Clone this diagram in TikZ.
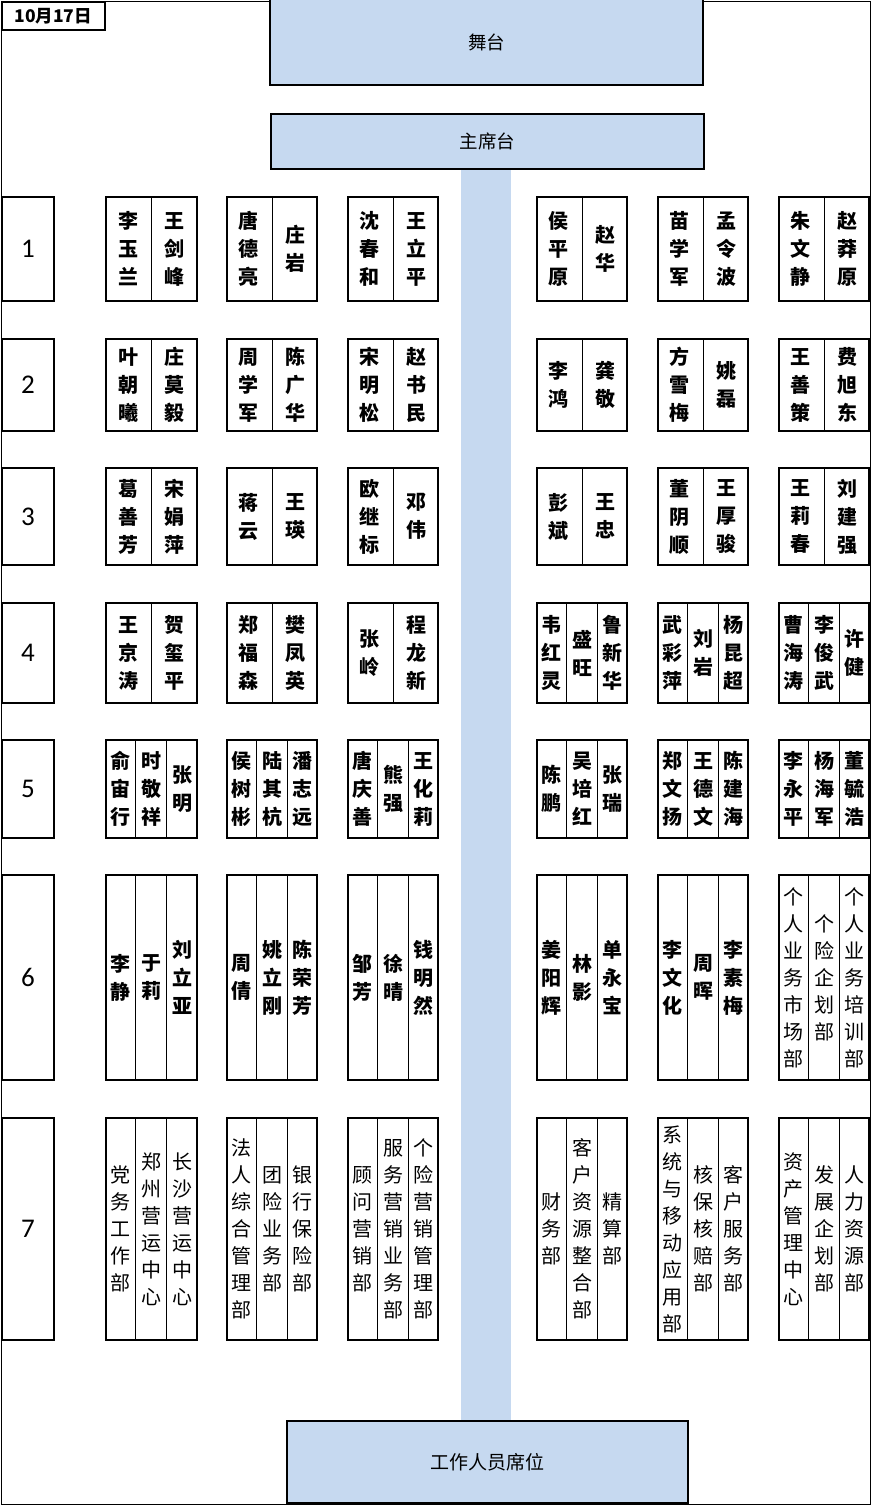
\documentclass[tikz,border=0pt]{standalone}
\usepackage{fontspec}
\setmainfont{Noto Sans CJK SC}
\newfontfamily\numfont{Carlito}
\usetikzlibrary{calc}
\definecolor{aisle}{HTML}{C6D9F0}
\tikzset{
  frameline/.style={draw=black, line width=1.2pt, inner sep=0pt},
  bluebox/.style={fill=aisle, inner sep=0pt, font=\fontsize{18.5}{20}\selectfont},
  boxedge/.style={draw=black, line width=2pt},
  tbl/.style={draw=black, line width=2pt, inner sep=0pt, rectangle},
  divider/.style={draw=black, line width=1pt},
  nm/.style={align=center, inner sep=0pt, font=\fontsize{20}{28}\selectfont\bfseries},
  dept/.style={align=center, inner sep=0pt, font=\fontsize{20}{27}\selectfont},
  rowlbl/.style={draw=black, line width=2pt, inner sep=0pt, minimum width=52, anchor=north west, font=\numfont\fontsize{27}{30}\selectfont},
}
\newcommand\seatII[7]{%
  \node[tbl, minimum width=90.6, minimum height=#5-#4, anchor=north west] (#1) at (#3,#4) {};
  \draw[divider] (#1.north) -- (#1.south);
  \node[#2] (#1a) at ($(#1.west)!0.25!(#1.east)$) {#6};
  \node[#2] (#1b) at ($(#1.west)!0.75!(#1.east)$) {#7};
}
\newcommand\seatIII[8]{%
  \node[tbl, minimum width=90.6, minimum height=#5-#4, anchor=north west] (#1) at (#3,#4) {};
  \draw[divider] ($(#1.north west)!0.3333!(#1.north east)$) -- ($(#1.south west)!0.3333!(#1.south east)$);
  \draw[divider] ($(#1.north west)!0.6667!(#1.north east)$) -- ($(#1.south west)!0.6667!(#1.south east)$);
  \node[#2] (#1a) at ($(#1.west)!0.16667!(#1.east)$) {#6};
  \node[#2] (#1b) at (#1.center) {#7};
  \node[#2] (#1c) at ($(#1.west)!0.83333!(#1.east)$) {#8};
}
\begin{document}
\begin{tikzpicture}[x=1pt,y=-1pt]
\useasboundingbox (0,0) rectangle (871,1505);
% outer frame
\node[frameline, minimum width=869.4, minimum height=1502.9, anchor=north west] (frame) at (0.6,0.6) {};
% aisle
\node[fill=aisle, inner sep=0pt, minimum width=50, minimum height=1252, anchor=north west] (aisle) at (461,168) {};
% stage
\node[bluebox, minimum width=433, minimum height=85, anchor=north west] (stage) at (270,0) {舞台};
\draw[boxedge] (stage.north west) -- (stage.south west) -- (stage.south east) -- (stage.north east);
\node[bluebox, boxedge, minimum width=433, minimum height=55, anchor=north west] (chair) at (270,113) {主席台};
\node[bluebox, boxedge, minimum width=401, minimum height=82, anchor=north west, font=\fontsize{19}{20}\selectfont] (staff) at (286,1420) {工作人员席位};
% date
\node[draw=black, line width=1.6pt, inner sep=0pt, minimum width=103, minimum height=28, anchor=north west, font=\fontsize{17.5}{18}\selectfont\bfseries] (date) at (1,1) {10月17日};
% row labels
\node[rowlbl, minimum height=104] (row1) at (1,196) {1};
\node[rowlbl, minimum height=92] (row2) at (1,338) {2};
\node[rowlbl, minimum height=97] (row3) at (1,467) {3};
\node[rowlbl, minimum height=100] (row4) at (1,602) {4};
\node[rowlbl, minimum height=98] (row5) at (1,739) {5};
\node[rowlbl, minimum height=205] (row6) at (1,874) {6};
\node[rowlbl, minimum height=222] (row7) at (1,1117) {7};
% row 1
\seatII{rAa}{nm}{105}{196}{300}{李\\玉\\兰}{王\\剑\\峰}
\seatII{rAb}{nm}{225.7}{196}{300}{唐\\德\\亮}{庄\\岩}
\seatII{rAc}{nm}{346.7}{196}{300}{沈\\春\\和}{王\\立\\平}
\seatII{rAd}{nm}{535.7}{196}{300}{侯\\平\\原}{赵\\华}
\seatII{rAe}{nm}{656.7}{196}{300}{苗\\学\\军}{孟\\令\\波}
\seatII{rAf}{nm}{777.7}{196}{300}{朱\\文\\静}{赵\\莽\\原}
% row 2
\seatII{rBa}{nm}{105}{338}{430}{叶\\朝\\曦}{庄\\莫\\毅}
\seatII{rBb}{nm}{225.7}{338}{430}{周\\学\\军}{陈\\广\\华}
\seatII{rBc}{nm}{346.7}{338}{430}{宋\\明\\松}{赵\\书\\民}
\seatII{rBd}{nm}{535.7}{338}{430}{李\\鸿}{龚\\敬}
\seatII{rBe}{nm}{656.7}{338}{430}{方\\雪\\梅}{姚\\磊}
\seatII{rBf}{nm}{777.7}{338}{430}{王\\善\\策}{费\\旭\\东}
% row 3
\seatII{rCa}{nm}{105}{467}{564}{葛\\善\\芳}{宋\\娟\\萍}
\seatII{rCb}{nm}{225.7}{467}{564}{蒋\\云}{王\\瑛}
\seatII{rCc}{nm}{346.7}{467}{564}{欧\\继\\标}{邓\\伟}
\seatII{rCd}{nm}{535.7}{467}{564}{彭\\斌}{王\\忠}
\seatII{rCe}{nm}{656.7}{467}{564}{董\\阴\\顺}{王\\厚\\骏}
\seatII{rCf}{nm}{777.7}{467}{564}{王\\莉\\春}{刘\\建\\强}
% row 4
\seatII{rDa}{nm}{105}{602}{702}{王\\京\\涛}{贺\\玺\\平}
\seatII{rDb}{nm}{225.7}{602}{702}{郑\\福\\森}{樊\\凤\\英}
\seatII{rDc}{nm}{346.7}{602}{702}{张\\岭}{程\\龙\\新}
\seatIII{rDd}{nm}{535.7}{602}{702}{韦\\红\\灵}{盛\\旺}{鲁\\新\\华}
\seatIII{rDe}{nm}{656.7}{602}{702}{武\\彩\\萍}{刘\\岩}{杨\\昆\\超}
\seatIII{rDf}{nm}{777.7}{602}{702}{曹\\海\\涛}{李\\俊\\武}{许\\健}
% row 5
\seatIII{rEa}{nm}{105}{739}{837}{俞\\宙\\行}{时\\敬\\祥}{张\\明}
\seatIII{rEb}{nm}{225.7}{739}{837}{侯\\树\\彬}{陆\\其\\杭}{潘\\志\\远}
\seatIII{rEc}{nm}{346.7}{739}{837}{唐\\庆\\善}{熊\\强}{王\\化\\莉}
\seatIII{rEd}{nm}{535.7}{739}{837}{陈\\鹏}{吴\\培\\红}{张\\瑞}
\seatIII{rEe}{nm}{656.7}{739}{837}{郑\\文\\扬}{王\\德\\文}{陈\\建\\海}
\seatIII{rEf}{nm}{777.7}{739}{837}{李\\永\\平}{杨\\海\\军}{董\\毓\\浩}
% row 6
\seatIII{rFa}{nm}{105}{874}{1079}{李\\静}{于\\莉}{刘\\立\\亚}
\seatIII{rFb}{nm}{225.7}{874}{1079}{周\\倩}{姚\\立\\刚}{陈\\荣\\芳}
\seatIII{rFc}{nm}{346.7}{874}{1079}{邹\\芳}{徐\\晴}{钱\\明\\然}
\seatIII{rFd}{nm}{535.7}{874}{1079}{姜\\阳\\辉}{林\\影}{单\\永\\宝}
\seatIII{rFe}{nm}{656.7}{874}{1079}{李\\文\\化}{周\\晖}{李\\素\\梅}
\seatIII{rFf}{dept}{777.7}{874}{1079}{个\\人\\业\\务\\市\\场\\部}{个\\险\\企\\划\\部}{个\\人\\业\\务\\培\\训\\部}
% row 7
\seatIII{rGa}{dept}{105}{1117}{1339}{党\\务\\工\\作\\部}{郑\\州\\营\\运\\中\\心}{长\\沙\\营\\运\\中\\心}
\seatIII{rGb}{dept}{225.7}{1117}{1339}{法\\人\\综\\合\\管\\理\\部}{团\\险\\业\\务\\部}{银\\行\\保\\险\\部}
\seatIII{rGc}{dept}{346.7}{1117}{1339}{顾\\问\\营\\销\\部}{服\\务\\营\\销\\业\\务\\部}{个\\险\\营\\销\\管\\理\\部}
\seatIII{rGd}{dept}{535.7}{1117}{1339}{财\\务\\部}{客\\户\\资\\源\\整\\合\\部}{精\\算\\部}
\seatIII{rGe}{dept}{656.7}{1117}{1339}{系\\统\\与\\移\\动\\应\\用\\部}{核\\保\\核\\赔\\部}{客\\户\\服\\务\\部}
\seatIII{rGf}{dept}{777.7}{1117}{1339}{资\\产\\管\\理\\中\\心}{发\\展\\企\\划\\部}{人\\力\\资\\源\\部}
\end{tikzpicture}
\end{document}
